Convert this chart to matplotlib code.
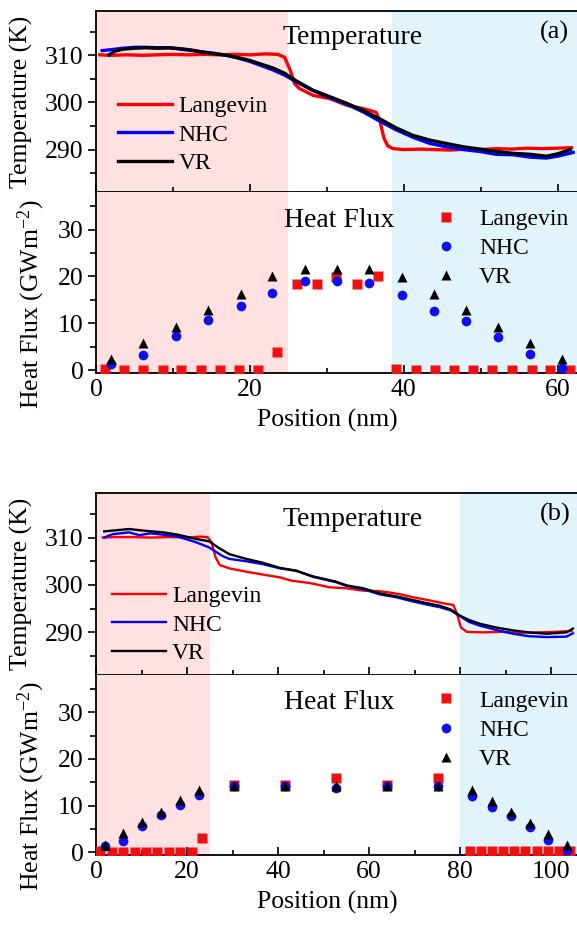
import matplotlib.pyplot as plt
from matplotlib.ticker import MultipleLocator

plt.rcParams['font.family'] = ['Liberation Serif', 'DejaVu Serif']
plt.rcParams['mathtext.default'] = 'regular'

# ---- panel (a): temperature profiles ----
lang_tx_a = [0.5, 2, 4, 6, 8, 10, 12, 14, 16, 18, 20, 22, 23.6, 24.5, 25.2, 25.8, 26.4, 28.2,
             30.4, 32.6, 34.7, 36.4, 36.9, 37.4, 37.9, 38.6, 40, 42, 44, 46, 48, 50, 52, 54,
             56, 58, 60, 61.8]
lang_t_a = [310.1, 310.0, 310.1, 310.0, 310.1, 310.2, 310.1, 310.2, 310.1, 310.2, 310.1, 310.3,
            310.2, 309.6, 307.0, 304.0, 303.0, 301.5, 300.8, 299.4, 298.7, 297.9, 296.0, 292.5,
            290.8, 290.2, 290.0, 290.1, 290.0, 289.9, 290.1, 290.0, 290.2, 290.1, 290.3, 290.2,
            290.3, 290.4]
nhc_tx_a = [0.8, 2, 3.5, 5, 6.5, 8, 9.5, 11, 12.5, 14, 15.5, 17, 18.5, 20, 21.5, 23, 24.5, 26,
            28.2, 30.4, 32.6, 34.7, 36.9, 39, 41.2, 43.4, 45.5, 47.7, 49.9, 52, 54.2, 56.4,
            58.5, 60, 62]
nhc_t_a = [311.0, 311.2, 311.5, 311.7, 311.7, 311.6, 311.6, 311.3, 311.0, 310.7, 310.4, 310.0,
           309.4, 308.7, 307.8, 306.9, 305.8, 304.4, 302.5, 301.0, 299.6, 298.0, 296.0, 294.2,
           292.6, 291.3, 290.6, 290.0, 289.6, 289.0, 288.9, 288.4, 288.2, 288.6, 289.4]
vr_tx_a = [1.7, 2.5, 3.5, 5, 6.5, 8, 9.5, 11, 12.5, 14, 15.5, 17, 18.5, 20, 21.5, 23, 24.5, 26,
           28.2, 30.4, 32.6, 34.7, 36.9, 39, 41.2, 43.4, 45.5, 47.7, 49.9, 52, 54.2, 56.4,
           58.5, 60, 61.6]
vr_t_a = [310.1, 310.9, 311.3, 311.5, 311.6, 311.5, 311.6, 311.4, 311.1, 310.6, 310.3, 310.0,
          309.5, 308.9, 308.1, 307.3, 306.2, 304.6, 302.6, 301.2, 299.8, 298.3, 296.5, 294.6,
          293.0, 292.0, 291.3, 290.6, 290.1, 289.6, 289.2, 289.0, 288.6, 289.1, 290.0]

# ---- panel (a): heat flux ----
lang_qx_a = [1.2, 3.6, 6.1, 8.7, 11.1, 13.6, 16.1, 18.6, 21.1, 23.5, 26.1, 28.7, 31.2, 33.9,
             36.7, 39.0, 41.6, 44.0, 46.5, 49.0, 51.5, 54.1, 56.6, 59.0, 61.6]
lang_q_a = [0.3, 0, 0, 0, 0, 0, 0, 0, 0, 3.9, 18.4, 18.4, 19.8, 18.4, 20.0,
            0.2, 0.1, 0.1, 0.1, 0.1, 0.1, 0.1, 0.1, 0.1, 0.1]
therm_qx_a = [2.0, 6.1, 10.4, 14.6, 18.8, 22.9, 27.1, 31.3, 35.5, 39.8, 43.9, 48.1, 52.2,
              56.4, 60.6]
nhc_q_a = [1.3, 3.2, 7.3, 10.8, 13.7, 16.4, 19.1, 19.1, 18.6, 16.1, 12.6, 10.5, 7.0, 3.4, 0.5]
vr_q_a = [2.3, 5.8, 9.3, 12.8, 16.3, 20.0, 21.6, 21.6, 21.6, 19.9, 16.3, 12.8, 9.3, 5.7, 2.3]

# ---- panel (b): temperature profiles ----
lang_tx_b = [1.5, 4, 8, 12, 16, 20, 23, 24.5, 25.4, 26.2, 27.2, 29.3, 33, 36.6, 40.4, 43, 47,
             51.4, 55, 58.7, 62, 64.6, 67, 69.7, 73, 77, 78.5, 79.3, 80.2, 81.5, 85, 89, 93,
             97, 101, 104.5]
lang_t_b = [310.0, 310.1, 310.1, 310.0, 310.1, 310.0, 310.2, 310.1, 309.0, 306.0, 304.2, 303.5,
            302.8, 302.2, 301.6, 300.9, 300.4, 299.5, 299.3, 298.8, 298.7, 298.4, 298.0, 297.4,
            296.8, 296.0, 295.8, 294.0, 291.0, 290.1, 290.0, 290.1, 289.9, 290.0, 290.1, 290.3]
nhc_tx_b = [1.8, 3.6, 7.3, 9.5, 12, 14.7, 18, 22, 24.9, 27.8, 29.3, 33, 36.6, 40.4, 44, 47.7,
            52.7, 55.1, 58.7, 62.4, 66, 69.7, 73, 75.6, 78, 80, 82, 84.4, 88, 91.7, 95, 99,
            103.4, 104.8]
nhc_t_b = [310.0, 310.7, 311.1, 310.5, 310.9, 310.6, 310.2, 309.0, 307.9, 306.1, 305.5, 305.0,
           304.4, 303.5, 303.0, 301.7, 300.6, 299.8, 299.1, 298.0, 297.4, 296.5, 295.8, 295.3,
           294.6, 293.4, 292.2, 291.4, 290.5, 289.7, 289.2, 289.0, 289.1, 289.8]
vr_tx_b = [1.8, 4, 7.3, 10, 14.7, 18, 22, 24.9, 27, 29.3, 33, 36.6, 40.4, 44, 47.7, 52.7, 55.1,
           58.7, 62.4, 66, 69.7, 73, 75.6, 78, 80, 82, 84.4, 88, 91.7, 95, 99, 103.4, 104.8]
vr_t_b = [311.3, 311.5, 311.8, 311.5, 311.1, 310.6, 309.7, 309.2, 307.8, 306.5, 305.5, 304.7,
          303.6, 303.0, 301.8, 300.7, 299.9, 299.3, 298.2, 297.6, 296.8, 296.1, 295.6, 294.8,
          293.5, 292.6, 291.8, 291.0, 290.4, 290.0, 289.7, 290.0, 290.8]

# ---- panel (b): heat flux ----
lang_qx_b = [0.9, 3.6, 6.0, 8.6, 11.0, 13.5, 16.0, 18.5, 21.0, 23.4, 30.4, 41.5, 52.7, 63.9,
             75.2, 82.2, 84.6, 87.0, 89.4, 91.9, 94.3, 96.9, 99.4, 101.8, 104.2]
lang_q_b = [0.2, 0, 0, 0, 0, 0, 0, 0, 0, 3.1, 14.4, 14.4, 15.9, 14.4, 15.9,
            0.2, 0.2, 0.2, 0.2, 0.2, 0.2, 0.2, 0.2, 0.2, 0.2]
therm_qx_b = [2.0, 6.0, 10.2, 14.3, 18.5, 22.6, 30.4, 41.5, 52.7, 63.9, 75.2, 82.7, 87.0,
              91.1, 95.4, 99.4, 103.6]
nhc_q_b = [1.3, 2.4, 5.6, 7.9, 10.2, 12.2, 14.3, 14.3, 13.8, 14.3, 14.2, 12.0, 9.7, 7.7, 5.4,
           2.7, 0.4]
vr_q_b = [1.6, 4.2, 6.4, 8.6, 11.1, 13.3, 14.3, 14.3, 14.1, 14.3, 14.3, 13.3, 10.9, 8.6, 6.3,
          3.9, 1.5]

W, H = 577, 931
fig = plt.figure(figsize=(W / 100, H / 100), dpi=100)

PINK = '#FFE1E1'
SKY = '#E1F3FB'


def px_axes(left, top, right, bottom):
    return fig.add_axes([left / W, 1 - bottom / H, (right - left) / W, (bottom - top) / H])


def style(ax, xmax, ylim, ymaj, ymin):
    ax.set_xlim(0, xmax)
    ax.set_ylim(*ylim)
    ax.xaxis.set_major_locator(MultipleLocator(20))
    ax.xaxis.set_minor_locator(MultipleLocator(10))
    ax.yaxis.set_major_locator(MultipleLocator(ymaj))
    ax.yaxis.set_minor_locator(MultipleLocator(ymin))
    ax.spines['right'].set_visible(False)
    for s in ax.spines.values():
        s.set_linewidth(1.3)
    ax.tick_params(axis='x', which='both', direction='in', top=False, width=1.2, labelsize=18.5, pad=4)
    ax.tick_params(axis='x', which='major', length=6)
    ax.tick_params(axis='x', which='minor', length=3.5)
    ax.tick_params(axis='y', which='both', direction='out', right=False, width=1.2, labelsize=18.5, pad=3)
    ax.tick_params(axis='y', which='major', length=6)
    ax.tick_params(axis='y', which='minor', length=4)


panels = [
    dict(tag='(a)', top=11, mid=192, bot=373, xmax=62.5, cold=38.5, lw=2.4,
         T=[(lang_tx_a, lang_t_a), (nhc_tx_a, nhc_t_a), (vr_tx_a, vr_t_a)],
         Q=[(lang_qx_a, lang_q_a), (therm_qx_a, nhc_q_a), (therm_qx_a, vr_q_a)],
         tleg=(0.046, 0.315), qleg=(0.703, 0.69)),
    dict(tag='(b)', top=493, mid=675, bot=855, xmax=105.7, cold=80, lw=1.7,
         T=[(lang_tx_b, lang_t_b), (nhc_tx_b, nhc_t_b), (vr_tx_b, vr_t_b)],
         Q=[(lang_qx_b, lang_q_b), (therm_qx_b, nhc_q_b), (therm_qx_b, vr_q_b)],
         tleg=(0.033, 0.275), qleg=(0.703, 0.694)),
]

names = ['Langevin', 'NHC', 'VR']
line_colors = ['#FF0000', '#0000FF', '#000000']
markers = [('s', '#EE1111', 6.5), ('o', '#1010EE', 7), ('^', '#000000', 7.5)]

for p in panels:
    axT = px_axes(96, p['top'], 577, p['mid'])
    axQ = px_axes(96, p['mid'], 577, p['bot'])
    for ax in (axT, axQ):
        ax.axvspan(0, 25, color=PINK, lw=0, zorder=0)
        ax.axvspan(p['cold'], p['xmax'], color=SKY, lw=0, zorder=0)

    for (x, y), c, n in zip(p['T'], line_colors, names):
        axT.plot(x, y, color=c, lw=p['lw'], label=n, zorder=3)
    for (x, y), (m, c, ms), n in zip(p['Q'], markers, names):
        axQ.plot(x, y, ls='none', marker=m, color=c, ms=ms, mec='none', label=n, zorder=3)

    style(axT, p['xmax'], (281, 319.4), 10, 5)
    style(axQ, p['xmax'], (-0.6, 38), 10, 5)
    axT.tick_params(axis='x', labelbottom=False)
    axQ.spines['top'].set_visible(False)

    axT.set_ylabel('Temperature (K)', fontsize=18.5)
    axT.yaxis.set_label_coords(-0.131, 0.5)
    axQ.set_ylabel('Heat Flux (GWm$^{-2}$)', fontsize=18.5)
    axQ.yaxis.set_label_coords(-0.102, 0.38)
    axQ.set_xlabel('Position (nm)', fontsize=18.5, labelpad=6)
    axQ.xaxis.set_label_coords(0.48, -0.2)

    axT.text(0.533, 0.856, 'Temperature', transform=axT.transAxes, ha='center', va='center',
             fontsize=20)
    axT.text(0.954, 0.88, p['tag'], transform=axT.transAxes, ha='center', va='center',
             fontsize=19)
    axQ.text(0.505, 0.845, 'Heat Flux', transform=axQ.transAxes, ha='center', va='center',
             fontsize=20)

    axT.legend(loc='center left', bbox_to_anchor=p['tleg'], frameon=False, fontsize=17,
               handlelength=2.3, handletextpad=0.25, labelspacing=0.3, borderpad=0,
               borderaxespad=0)
    axQ.legend(loc='center left', bbox_to_anchor=p['qleg'], frameon=False, fontsize=17,
               handlelength=1.0, handletextpad=0.9, labelspacing=0.32, borderpad=0,
               borderaxespad=0, numpoints=1)

fig.savefig('out.png', dpi=100)
